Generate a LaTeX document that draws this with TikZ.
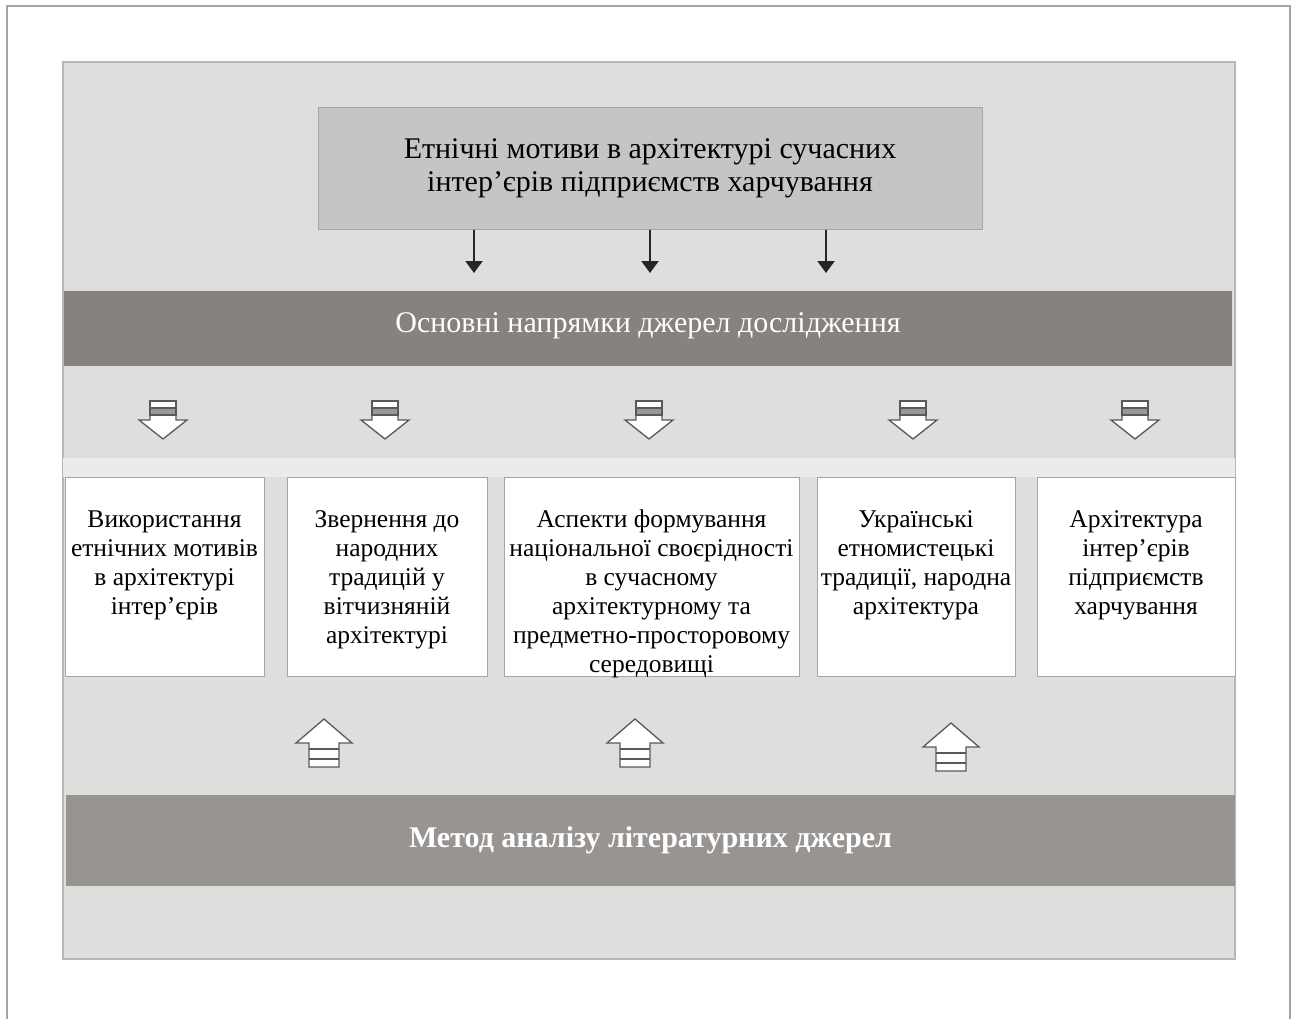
\documentclass[tikz,border=0pt]{standalone}
\usepackage{fontspec}
\setmainfont{Liberation Serif}
\usepackage{xcolor}
\definecolor{panel}{RGB}{222,222,220}
\definecolor{strip}{RGB}{235,235,235}
\definecolor{dband}{RGB}{134,130,128}
\definecolor{lband}{RGB}{152,148,146}
\definecolor{tbox}{RGB}{197,197,197}
\definecolor{edge}{RGB}{165,165,165}
\usepackage{tikz}
\usetikzlibrary{arrows.meta,positioning,calc}

% text of a source box, set from the top
\newcommand{\celltext}[2]{\parbox[t][199pt][t]{#1}{\centering\vspace*{30pt}\begin{tabular}{@{}c@{}}#2\end{tabular}}}

\tikzset{
  hollowdown/.pic={
    \draw[fill=white,draw=black!65,line width=1.3pt]
      (-13,0) -- (13,0) -- (13,19) -- (24,19) -- (0,38) -- (-24,19) -- (-13,19) -- cycle;
    \fill[black!40] (-13,7) rectangle (13,14);
    \draw[black!65,line width=1.3pt] (-13,0) rectangle (13,14) (-13,7) -- (13,7);
  },
  hollowup/.pic={
    \draw[fill=white,draw=black!65,line width=1.3pt]
      (0,0) -- (28,24) -- (15,24) -- (15,48) -- (-15,48) -- (-15,24) -- (-28,24) -- cycle;
    \draw[black!65,line width=1.3pt] (-15,30) -- (15,30) (-15,40) -- (15,40);
  }
}

\begin{document}
\begin{tikzpicture}[
  x=1pt,y=-1pt,
  node distance=20pt,
  tbox/.style={rectangle,draw=edge,fill=tbox,line width=1pt,minimum width=664pt,minimum height=121pt,align=center,font=\fontsize{30}{33}\selectfont},
  bband/.style={rectangle,fill=#1,minimum height=75pt,text=white,font=\fontsize{30}{33}\selectfont},
  sbox/.style={rectangle,draw=edge,fill=white,line width=1pt,inner sep=0pt,font=\fontsize{25.5}{29}\selectfont},
  arrow/.style={-{Triangle[length=12pt,width=17pt]},line width=2.2pt,black!85}
]
  \useasboundingbox (0,0) rectangle (1298,1019);

  % frame and panel
  \draw[edge,line width=2pt] (7,1019) -- (7,6) -- (1290,6) -- (1290,1019);
  \draw[fill=panel,draw=edge!80,line width=1.2pt] (63,62) rectangle (1235,959);
  \fill[strip] (63,458) rectangle (1235,477);

  % Title
  \node[tbox] (title) at (650,168.5) {Етнічні мотиви в архітектурі сучасних\\інтер’єрів підприємств харчування};

  % Bands
  \node[bband=dband,minimum width=1168pt,text depth=12pt] (dir) at (648,328.5) {Основні напрямки джерел дослідження};
  \node[bband=lband,minimum width=1169pt,minimum height=91pt,font=\fontsize{30}{33}\selectfont\bfseries] (method) at (650.5,840.5) {Метод аналізу літературних джерел};

  % Sources
  \node[sbox] (s1) at (164.5,577) {\celltext{199pt}{Використання\\етнічних мотивів\\в архітектурі\\інтер’єрів}};
  \node[sbox,right=22pt of s1] (s2) {\celltext{200pt}{Звернення до\\народних\\традицій у\\вітчизняній\\архітектурі}};
  \node[sbox,right=16pt of s2] (s3) {\celltext{295pt}{Аспекти формування\\національної своєрідності\\в сучасному\\архітектурному та\\предметно-просторовому\\середовищі}};
  \node[sbox,right=17pt of s3] (s4) {\celltext{198pt}{Українські\\етномистецькі\\традиції, народна\\архітектура}};
  \node[sbox,right=21pt of s4] (s5) {\celltext{198pt}{Архітектура\\інтер’єрів\\підприємств\\харчування}};

  % Arrows
  \coordinate (t1) at (474,273);
  \coordinate (t2) at (650,273);
  \coordinate (t3) at (826,273);
  \draw[arrow] (title.south -| t1) -- (t1);
  \draw[arrow] (title.south -| t2) -- (t2);
  \draw[arrow] (title.south -| t3) -- (t3);

  \foreach \xx in {163,385,649,913,1135}
    \pic at (\xx,401) {hollowdown};
  \pic at (324,719) {hollowup};
  \pic at (635,719) {hollowup};
  \pic at (951,723) {hollowup};
\end{tikzpicture}
\end{document}
